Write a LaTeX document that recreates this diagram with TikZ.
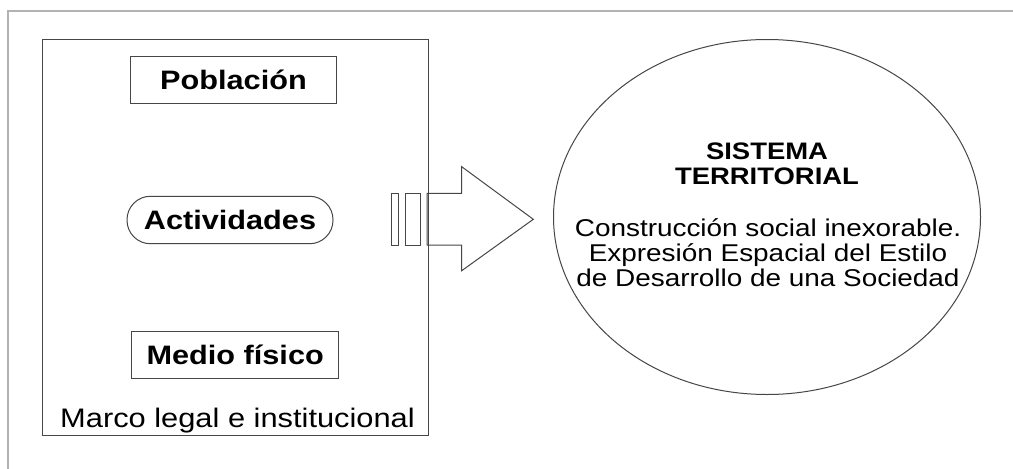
\documentclass[tikz,border=0pt]{standalone}
\usepackage{fontspec}
\setmainfont[FakeStretch=1.15]{Liberation Sans}
\usepackage{xcolor}
\usepackage{tikz}
\usetikzlibrary{shapes.geometric}

\definecolor{framegray}{RGB}{178,178,178}
\definecolor{linegray}{RGB}{70,70,70}

\begin{document}
\begin{tikzpicture}[x=0.75pt, y=-0.75pt,
    itembox/.style={draw=linegray, line width=0.75pt, inner sep=0pt,
                    minimum width=155pt, minimum height=35.25pt,
                    font=\fontsize{20}{22}\selectfont\bfseries}]
             \useasboundingbox (0,0) rectangle (1013,468);
             \fill[white] (0,0) rectangle (1013,468);
             \draw[framegray, line width=1.2pt] (8,470) -- (8,11) -- (1015,11);

             % left block
             \node[draw=linegray, line width=0.75pt, inner sep=0pt,
                   minimum width=289.5pt, minimum height=297pt] (marco) at (235,237) {};
             \node[itembox] (poblacion) at (233.5,79.5) {Población};
             \node[itembox, rounded corners=17.6pt, minimum width=154.5pt,
                   minimum height=35.6pt] (actividades) at (230,220) {Actividades};
             \node[itembox] (medio) at (235.2,354.5) {Medio físico};
             \node[anchor=base, inner sep=0pt, font=\fontsize{20.1}{22}\selectfont]
                   (marcotxt) at (237.5,427.7) {Marco legal e institucional};

             % arrow
             \draw[linegray, line width=0.75pt] (391,193.3) rectangle (398.3,245);
             \draw[linegray, line width=0.75pt] (405,193.3) rectangle (420,245);
             \draw[linegray, line width=0.75pt] (427,193.3) -- (461.7,193.3) -- (461.7,166.7)
                  -- (533.3,219.3) -- (461.7,270.7) -- (461.7,245) -- (427,245) -- cycle;

             % right block
             \node[draw=linegray, line width=0.75pt, ellipse, inner sep=0pt,
                   minimum width=320.25pt, minimum height=266.25pt] (sistema) at (767,217) {};
             \node[align=center, inner sep=0pt, font=\fontsize{17.9}{18.75}\selectfont\bfseries]
                   (titulo) at (767,163.6) {SISTEMA\\TERRITORIAL};
             \node[align=center, inner sep=0pt, font=\fontsize{18.2}{18.75}\selectfont]
                   (texto) at (768,253.1) {Construcción social inexorable.\\Expresión Espacial del Estilo\\de Desarrollo de una Sociedad};
             \end{tikzpicture}
\end{document}
